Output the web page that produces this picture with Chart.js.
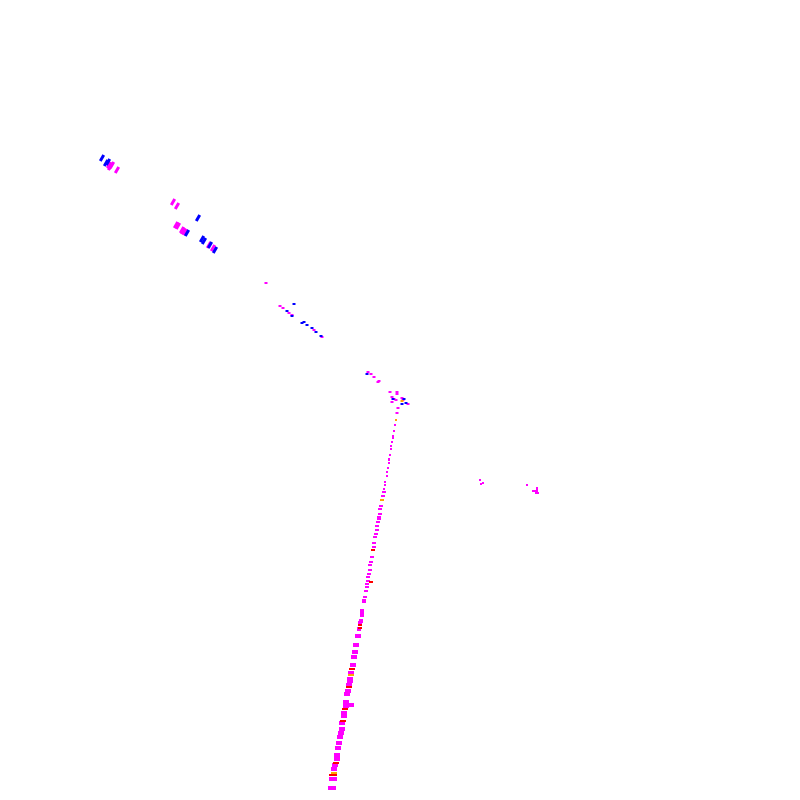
<!DOCTYPE html>
<html>
<head>
<meta charset="utf-8">
<style>
  html, body { margin: 0; padding: 0; background: #fff; }
  #wrap { width: 800px; height: 800px; }
</style>
<script src="https://cdn.jsdelivr.net/npm/chart.js@4/dist/chart.umd.min.js"></script>
</head>
<body>
<div id="wrap"><canvas id="chart" width="800" height="800"></canvas></div>
<script>
const magentaPoints = [
  [109,165],[111,166],[112,165],[110,167],[117,170],
  [173,202],[177,206],[176,225],[178,226],[182,230],[183,231],[185,232],[209,245],[213,248],
  [266,283],[280,306],[283,308],[289,313],[292,315],[314,330],[322,337],
  [368,372],[371,374],[374,377],[379,381],[378,382],
  [390,392],[397,392],[397,394],[392,397],[394,399],[396,400],[402,398],[403,400],[392,402],[408,404],[398,408],
  [480,480],[481,484],[483,483],[527,485],[534,491],[536,491],[537,488],[537,490],[537,493],
  [397,413],[396,420],[395,425],[394,431],[393,436],[393,438],[392,442],[391,446],[391,449],
  [390,455],[389,459],[389,460],[389,463],[388,468],[387,472],[387,476],[385,482],[385,485],
  [384,489],[384,492],[383,496],[382,500],[381,506],[380,509],[380,514],[379,517],[379,519],
  [378,522],[377,526],[377,530],[376,534],[375,537],[374,543],[374,547],[372,557],[371,562],
  [370,565],[370,570],[369,574],[368,577],[368,581],[367,584],[367,587],[366,591],[365,597],
  [364,601],[362,611],[362,615],[361,621],[360,623],[359,629],[358,636],[356,645],[355,652],
  [354,657],[353,665],[351,673],[350,679],[350,681],[349,685],[348,691],[347,694],[346,702],
  [346,706],[351,705],[344,713],[344,716],[342,723],[342,729],[341,733],[340,737],[339,743],
  [338,748],[337,755],[337,759],[335,765],[334,769],[333,779],[332,788]
];
const bluePoints = [
  [102,158],[106,163],[108,162],[198,218],[187,233],[202,239],[204,241],[210,245],[215,250],
  [294,304],[287,311],[292,316],[302,323],[304,322],[307,325],[312,328],[316,332],[321,336],
  [367,374],[393,399],[404,399],[402,404],[406,403]
];
const redPoints = [
  [373,550],[371,582],[360,625],[360,628],[352,669],[349,687],[345,709],[343,721],[336,763],[333,775]
];
const orangePoints = [
  [402,401],[396,420],[382,500],[351,675],[334,773]
];

const toXY = list => list.map(([x, y]) => ({ x, y }));
const SLANT_END = 260;
const LINE_START = 420;

const markRadius = ctx => {
  const y = ctx.raw.y;
  if (y < SLANT_END) return 3.5;
  if (y < LINE_START) return 1.5;
  return Math.round(1 + (y - LINE_START) / 368 * 2.6);
};
const markWidth = ctx => {
  const y = ctx.raw.y;
  if (y < SLANT_END) return 3;
  if (y < 600) return 2;
  return 4;
};
const thinWidth = () => 2;
const markRotation = ctx => (ctx.raw.y < SLANT_END ? -60 : 0);

const series = (data, color, width) => ({
  data: toXY(data),
  showLine: false,
  pointStyle: 'line',
  borderColor: color,
  backgroundColor: color,
  pointBorderColor: color,
  pointRadius: markRadius,
  pointBorderWidth: width,
  pointRotation: markRotation
});

new Chart(document.getElementById('chart'), {
  type: 'scatter',
  data: {
    datasets: [
      series(orangePoints, '#ffa500', thinWidth),
      series(redPoints, '#ff0000', thinWidth),
      series(bluePoints, '#0000ff', markWidth),
      series(magentaPoints, '#ff00ff', markWidth)
    ]
  },
  options: {
    responsive: false,
    animation: false,
    layout: { padding: 0, autoPadding: false },
    plugins: { legend: { display: false }, tooltip: { enabled: false } },
    scales: {
      x: { display: false, type: 'linear', min: 0, max: 800 },
      y: { display: false, type: 'linear', min: 0, max: 800, reverse: true }
    }
  }
});
</script>
</body>
</html>
